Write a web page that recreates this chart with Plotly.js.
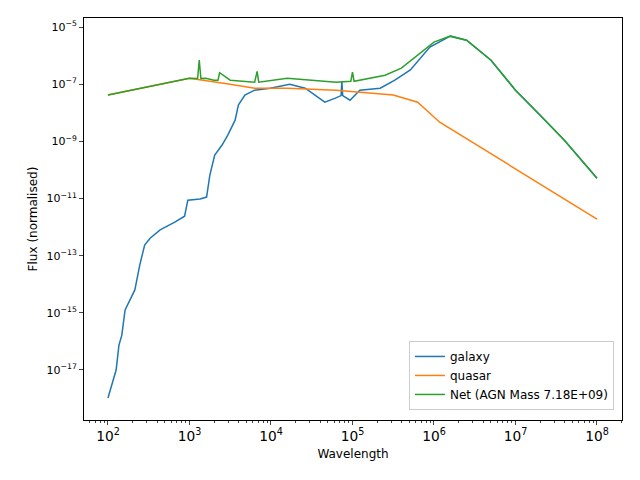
<!DOCTYPE html>
<html>
<head>
<script src="https://cdn.plot.ly/plotly-3.0.1.min.js"></script>
<style>body{margin:0}#App{width:640px;height:480px}</style>
</head>
<body>
<div id="App"></div>
<script>
// spectra (log10 wavelength, log10 flux)
const galaxyLogWl = [2.00,2.05,2.10,2.135,2.17,2.21,2.27,2.33,2.39,2.45,2.52,2.64,2.82,2.94,2.98,3.13,3.21,3.25,3.31,3.40,3.47,3.56,3.60,3.68,3.80,3.99,4.23,4.42,4.54,4.66,4.79,4.86,4.87,4.88,4.97,5.09,5.34,5.52,5.71,5.95,6.2,6.4,6.7,7.0,7.3,7.6,8.0];
const galaxyLogFlux = [-17.98,-17.52,-17.0,-16.13,-15.78,-14.9,-14.55,-14.2,-13.33,-12.63,-12.38,-12.1,-11.83,-11.62,-11.06,-11.02,-10.95,-10.18,-9.48,-9.13,-8.78,-8.26,-7.73,-7.38,-7.21,-7.14,-7.0,-7.14,-7.38,-7.63,-7.49,-7.4,-6.9,-7.4,-7.56,-7.21,-7.14,-6.86,-6.5,-5.7,-5.32,-5.46,-6.16,-7.21,-8.08,-8.96,-10.29];
const quasarLogWl = [2.0,3.0,3.5,3.8,4.2,4.8,5.5,5.8,6.07,8.0];
const quasarLogFlux = [-7.38,-6.79,-7.0,-7.14,-7.14,-7.21,-7.38,-7.63,-8.33,-11.72];
const netLogWl = [2.0,3.0,3.1,3.12,3.14,3.2,3.3,3.35,3.37,3.5,3.8,3.83,3.85,4.0,4.2,4.5,4.8,4.98,5.0,5.02,5.2,5.4,5.6,5.8,6.0,6.2,6.4,6.7,7.0,7.3,7.6,8.0];
const netLogFlux = [-7.38,-6.79,-6.8,-6.16,-6.8,-6.79,-6.86,-6.86,-6.6,-6.86,-6.93,-6.55,-6.93,-6.86,-6.79,-6.86,-6.93,-6.9,-6.58,-6.9,-6.8,-6.69,-6.44,-5.99,-5.53,-5.32,-5.46,-6.16,-7.21,-8.08,-8.96,-10.29];
const yTickExp = [-17,-15,-13,-11,-9,-7,-5];
const names = ["galaxy","quasar","Net (AGN Mass 7.18E+09)"];
const colors = ["#1f77b4","#ff7f0e","#2ca02c"];

const pow = a => a.map(v => Math.pow(10, v));
const series = [[galaxyLogWl,galaxyLogFlux],[quasarLogWl,quasarLogFlux],[netLogWl,netLogFlux]];
const data = series.map((s, i) => ({
  x: pow(s[0]), y: pow(s[1]), name: names[i], type: "scatter", mode: "lines",
  line: {color: colors[i], width: 1.5}
}));

const axis = {
  type: "log", showgrid: false, zeroline: false, showline: true, mirror: true,
  linecolor: "black", linewidth: 1, ticks: "outside", ticklen: 4,
  exponentformat: "power", tickfont: {size: 11, color: "black"}
};
const layout = {
  width: 640, height: 480,
  margin: {l: 84, r: 18, t: 18, b: 60},
  font: {family: "DejaVu Sans", color: "black"},
  paper_bgcolor: "white", plot_bgcolor: "white",
  xaxis: {...axis, range: [1.706, 8.307], dtick: 1,
    minor: {ticks: "outside", ticklen: 2, showgrid: false},
    title: {text: "Wavelength", font: {size: 12}, standoff: 6}},
  yaxis: {...axis, range: [-18.75, -4.685], tickmode: "array",
    tickvals: pow(yTickExp),
    ticktext: yTickExp.map(e => "10<sup>\u2212" + Math.abs(e) + "</sup>"),
    title: {text: "Flux (normalised)", font: {size: 12}, standoff: 6}},
  legend: {x: 0.985, y: 0.025, xanchor: "right", yanchor: "bottom",
    bgcolor: "rgba(255,255,255,0.8)", bordercolor: "#ccc", borderwidth: 1,
    font: {size: 12}},
  showlegend: true
};
Plotly.newPlot("App", data, layout, {displayModeBar: false});
</script>
</body>
</html>
